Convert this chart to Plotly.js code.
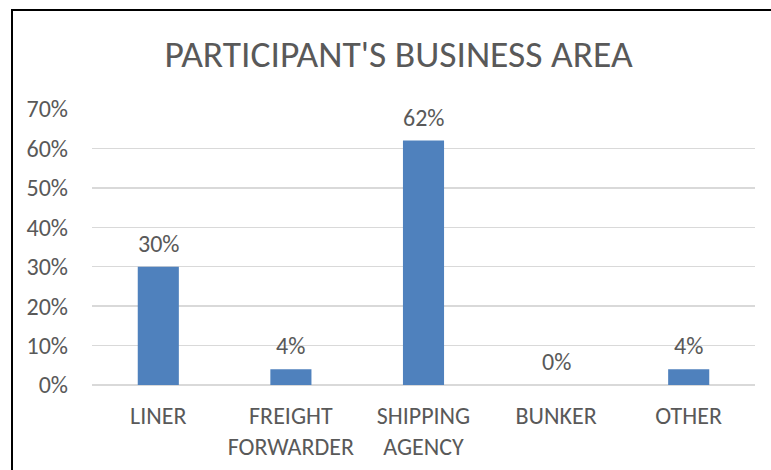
<!DOCTYPE html>
<html>
<head>
<meta charset="utf-8">
<script src="https://cdn.plot.ly/plotly-3.0.1.min.js"></script>
<style>
  html, body { margin: 0; padding: 0; background: #fff; overflow: hidden; }
  #wrap { position: relative; width: 771px; height: 470px; }
  #chart { width: 771px; height: 470px; }
  #frame { position: absolute; left: 11px; top: 9px; width: 820px; height: 520px;
           border-top: 2px solid #000; border-left: 2px solid #000; pointer-events: none; }
</style>
</head>
<body>
<div id="wrap">
  <div id="chart"></div>
  <div id="frame"></div>
</div>
<script>
const categories = ["LINER", "FREIGHT<br>FORWARDER", "SHIPPING<br>AGENCY", "BUNKER", "OTHER"];
const values = [0.30, 0.04, 0.62, 0.00, 0.04];
const valueLabels = ["30%", "4%", "62%", "0%", "4%"];
const yTickValues = [0, 0.1, 0.2, 0.3, 0.4, 0.5, 0.6, 0.7];
const yTickLabels = ["0%", "10%", "20%", "30%", "40%", "50%", "60%", "70%"];
const chartTitle = "PARTICIPANT'S BUSINESS AREA";

const FONT = "Carlito, 'Liberation Sans Narrow', 'Arial Narrow', sans-serif";
const TXT = "#595959";

const trace = {
  type: "bar",
  x: categories,
  y: values,
  marker: { color: "#4f81bd" },
  width: 0.31,
  hoverinfo: "skip"
};

const annotations = categories.map((c, i) => ({
  x: c, y: values[i], xref: "x", yref: "y",
  text: valueLabels[i], showarrow: false,
  yanchor: "bottom", yshift: 7,
  font: { family: FONT, size: 24, color: TXT }
}));

const layout = {
  width: 771, height: 470,
  margin: { l: 92, r: 16, t: 109, b: 85, pad: 0 },
  paper_bgcolor: "#ffffff", plot_bgcolor: "#ffffff",
  font: { family: FONT, size: 24, color: TXT },
  title: {
    text: chartTitle,
    font: { family: FONT, size: 37.5, color: TXT },
    xref: "container", x: 0.517, xanchor: "center",
    yref: "container", y: 0.885, yanchor: "middle"
  },
  showlegend: false,
  bargap: 0.69,
  xaxis: {
    type: "category",
    showgrid: false, showline: false, zeroline: false,
    ticks: "", ticklabelstandoff: 14,
    tickfont: { family: FONT, size: 24, color: TXT }
  },
  yaxis: {
    range: [0, 0.7], tickmode: "array",
    tickvals: yTickValues, ticktext: yTickLabels,
    showgrid: true, gridcolor: "#d9d9d9", gridwidth: 1.5,
    zeroline: true, zerolinecolor: "#d9d9d9", zerolinewidth: 1.5,
    showline: false, ticks: "", ticklabelstandoff: 23,
    tickfont: { family: FONT, size: 24, color: TXT }
  },
  annotations: annotations
};

Plotly.newPlot("chart", [trace], layout, { displayModeBar: false, staticPlot: true });
</script>
</body>
</html>
